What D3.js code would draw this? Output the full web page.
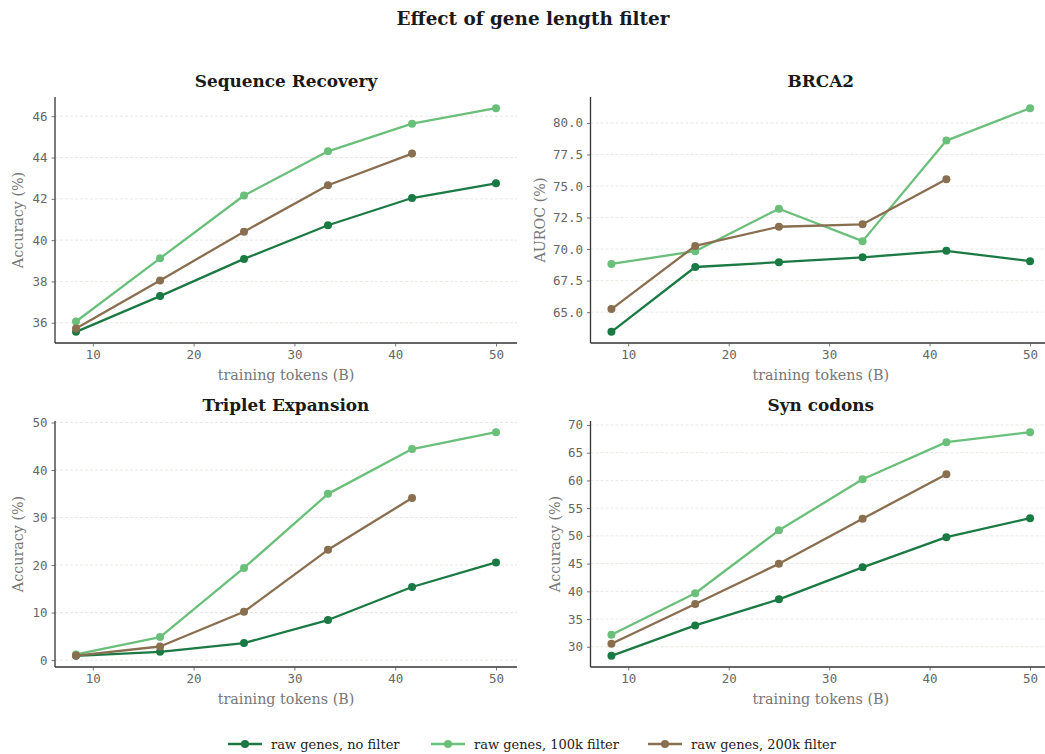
<!DOCTYPE html>
<html>
<head>
<meta charset="utf-8">
<script src="https://cdn.jsdelivr.net/npm/d3@7"></script>
<style>
  body { margin: 0; background: #fff; }
  svg { display: block; }
</style>
</head>
<body>
<svg width="1045" height="754"></svg>
<script>
(function() {
    var tokens = [8.33, 16.67, 25, 33.33, 41.67, 50];

    var seriesNames = ["raw genes, no filter", "raw genes, 100k filter", "raw genes, 200k filter"];
    var seriesColors = ["#1b7a43", "#6abf7b", "#8a6e50"];

    // one array per panel and series
    var seqNoFilter   = [35.56, 37.29, 39.09, 40.72, 42.04, 42.75];
    var seq100k       = [36.06, 39.12, 42.16, 44.30, 45.64, 46.39];
    var seq200k       = [35.72, 38.05, 40.41, 42.66, 44.19];

    var brcaNoFilter  = [63.44, 68.58, 68.96, 69.35, 69.86, 69.04];
    var brca100k      = [68.82, 69.83, 73.20, 70.63, 78.60, 81.17];
    var brca200k      = [65.24, 70.25, 71.77, 71.96, 75.54];

    var tripNoFilter  = [0.9, 1.75, 3.58, 8.43, 15.38, 20.56];
    var trip100k      = [1.18, 4.85, 19.4, 34.98, 44.4, 47.96];
    var trip200k      = [0.95, 2.86, 10.17, 23.2, 34.1];

    var synNoFilter   = [28.37, 33.85, 38.55, 44.33, 49.76, 53.2];
    var syn100k       = [32.17, 39.65, 51.0, 60.2, 66.9, 68.7];
    var syn200k       = [30.54, 37.7, 44.98, 53.1, 61.1];

    var xTicks = [10, 20, 30, 40, 50];
    var seqTicks = [36, 38, 40, 42, 44, 46];
    var brcaTicks = [65, 67.5, 70, 72.5, 75, 77.5, 80];
    var tripTicks = [0, 10, 20, 30, 40, 50];
    var synTicks = [30, 35, 40, 45, 50, 55, 60, 65, 70];

    var panels = [
        { title: "Sequence Recovery", ylabel: "Accuracy (%)", series: [seqNoFilter, seq100k, seq200k], ticks: seqTicks, fmt: d3.format("d"),
          box: { x0: 55, x1: 517, y0: 97, y1: 343 }, ylabelX: 18 },
        { title: "BRCA2", ylabel: "AUROC (%)", series: [brcaNoFilter, brca100k, brca200k], ticks: brcaTicks, fmt: d3.format(".1f"),
          box: { x0: 590.5, x1: 1051, y0: 97, y1: 343 }, ylabelX: 540 },
        { title: "Triplet Expansion", ylabel: "Accuracy (%)", series: [tripNoFilter, trip100k, trip200k], ticks: tripTicks, fmt: d3.format("d"),
          box: { x0: 55, x1: 517, y0: 421, y1: 667 }, ylabelX: 18 },
        { title: "Syn codons", ylabel: "Accuracy (%)", series: [synNoFilter, syn100k, syn200k], ticks: synTicks, fmt: d3.format("d"),
          box: { x0: 590.5, x1: 1051, y0: 421, y1: 667 }, ylabelX: 555 }
    ];

    var svg = d3.select("svg");
    var serif = "'DejaVu Serif', serif";
    var mono = "'DejaVu Sans Mono', monospace";

    svg.append("text")
        .attr("x", 533).attr("y", 25)
        .attr("text-anchor", "middle")
        .style("font-family", serif).style("font-weight", "bold").style("font-size", "18.4px")
        .style("fill", "#1a1a1a")
        .text("Effect of gene length filter");

    function padded(lo, hi) {
        var m = (hi - lo) * 0.05;
        return [lo - m, hi + m];
    }

    var xExt = padded(d3.min(tokens), d3.max(tokens));

    panels.forEach(function(p) {
        var b = p.box;
        var all = p.series.reduce(function(a, s) { return a.concat(s); }, []);
        var x = d3.scaleLinear().domain(xExt).range([b.x0, b.x1]);
        var y = d3.scaleLinear().domain(padded(d3.min(all), d3.max(all))).range([b.y1, b.y0]);

        var g = svg.append("g");

        // grid
        g.selectAll(".grid").data(p.ticks).enter().append("line")
            .attr("x1", b.x0).attr("x2", b.x1)
            .attr("y1", function(d) { return y(d); }).attr("y2", function(d) { return y(d); })
            .style("stroke", "#e2e2da").style("stroke-width", 0.8).style("stroke-dasharray", "3,2");

        var xAxis = g.append("g")
            .attr("transform", "translate(0," + b.y1 + ")")
            .call(d3.axisBottom(x).tickValues(xTicks).tickSize(3.5).tickPadding(4).tickFormat(d3.format("d")));
        var yAxis = g.append("g")
            .attr("transform", "translate(" + b.x0 + ",0)")
            .call(d3.axisLeft(y).tickValues(p.ticks).tickSize(3.5).tickPadding(4).tickFormat(p.fmt));

        [xAxis, yAxis].forEach(function(a) {
            a.select(".domain").style("stroke", "#333").style("stroke-width", 1.3);
            a.selectAll(".tick line").style("stroke", "#555").style("stroke-width", 0.8);
            a.selectAll(".tick text").style("font-family", mono).style("font-size", "12.5px").style("fill", "#666");
        });
        xAxis.select(".domain").attr("d", "M" + b.x0 + ",0H" + b.x1);
        yAxis.select(".domain").attr("d", "M0," + b.y1 + "V" + b.y0);

        var line = d3.line()
            .x(function(d, i) { return x(tokens[i]); })
            .y(function(d) { return y(d); });

        p.series.forEach(function(s, k) {
            g.append("path").datum(s)
                .attr("d", line)
                .style("fill", "none").style("stroke", seriesColors[k]).style("stroke-width", 2.3)
                .style("stroke-linejoin", "round");
            g.selectAll(".pt" + k).data(s).enter().append("circle")
                .attr("cx", function(d, i) { return x(tokens[i]); })
                .attr("cy", function(d) { return y(d); })
                .attr("r", 4)
                .style("fill", seriesColors[k]);
        });

        g.append("text")
            .attr("x", (b.x0 + b.x1) / 2).attr("y", b.y0 - 10)
            .attr("text-anchor", "middle")
            .style("font-family", serif).style("font-weight", "bold").style("font-size", "16.9px")
            .style("fill", "#1a1a1a")
            .text(p.title);

        g.append("text")
            .attr("x", (b.x0 + b.x1) / 2).attr("y", b.y1 + 37)
            .attr("text-anchor", "middle")
            .style("font-family", serif).style("font-size", "14.3px").style("fill", "#777")
            .text("training tokens (B)");

        g.append("text")
            .attr("transform", "translate(" + (p.ylabelX + 5) + "," + ((b.y0 + b.y1) / 2) + ") rotate(-90)")
            .attr("text-anchor", "middle")
            .style("font-family", serif).style("font-size", "14.3px").style("fill", "#777")
            .text(p.ylabel);
    });

    // legend
    var legendX = [228, 431, 648];
    var legend = svg.append("g").selectAll("g").data(seriesNames).enter().append("g")
        .attr("transform", function(d, i) { return "translate(" + legendX[i] + ",744)"; });
    legend.append("line")
        .attr("x1", 0).attr("x2", 34)
        .style("stroke", function(d, i) { return seriesColors[i]; }).style("stroke-width", 2.3);
    legend.append("circle")
        .attr("cx", 17).attr("r", 4)
        .style("fill", function(d, i) { return seriesColors[i]; });
    legend.append("text")
        .attr("x", 43).attr("dy", "0.35em")
        .style("font-family", serif).style("font-size", "13px").style("fill", "#222")
        .text(function(d) { return d; });
})();
</script>
</body>
</html>
